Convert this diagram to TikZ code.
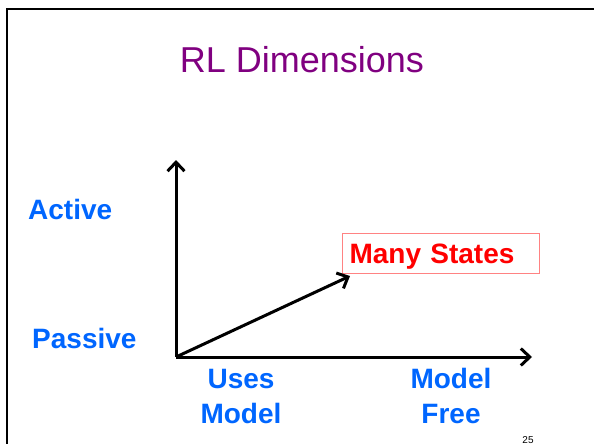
\documentclass[tikz,border=0pt]{standalone}
\usepackage{fontspec}
\setmainfont{Liberation Sans}
\usepackage{xcolor}
\usetikzlibrary{positioning, calc, arrows.meta}

\definecolor{titlepurple}{RGB}{128,0,128}
\definecolor{dimblue}{RGB}{0,102,255}
\definecolor{boxpink}{RGB}{255,130,130}

\begin{document}
\begin{tikzpicture}[
    x=1pt, y=-1pt,
    title/.style={font=\fontsize{36}{43}\selectfont, text=titlepurple,
      anchor=base},
    dimlabel/.style={font=\fontsize{28}{35}\selectfont\bfseries,
      text=dimblue, inner sep=0pt},
    statebox/.style={draw=boxpink, line width=1pt,
      font=\fontsize{28}{35}\selectfont\bfseries, text=red,
      anchor=north west, minimum width=197pt, minimum height=40pt,
      text width=183pt, inner xsep=7pt, inner ysep=0pt, align=left,
      text depth=0pt},
    axis/.style={line width=3pt, -{Straight Barb[length=9pt, width=17pt]}}
    ]

    \useasboundingbox (0,0) rectangle (594,444);

    % Cadre
    \draw[line width=2pt] (7,444) -- (7,9) -- (594,9);

    % Titre
    \node[title] (titre) at (302,73) {RL Dimensions};

    % Axes
    \coordinate (O) at (176,357);
    \coordinate (yTip) at (176,160);
    \coordinate (xTip) at (532,357);
    \draw[axis] (O) -- (yTip);
    \draw[axis] (O) -- (xTip);

    % Boite
    \node[statebox] (states) at (342,233) {Many States};
    \draw[axis] (O) -- ($(states.south west)+(8,2)$);

    % Etiquettes
    \node[dimlabel, anchor=base west] (active) at (28,219) {Active};
    \node[dimlabel, anchor=base west] (passive) at (32,348) {Passive};
    \node[dimlabel, align=center, anchor=base] (usesModel) at (241,423)
    {Uses\\Model};
    \node[dimlabel, align=center, anchor=base] (modelFree) at (451,423)
    {Model\\Free};

    % Numero
    \node[font=\fontsize{10}{12}\selectfont, anchor=base, inner sep=0pt]
    (pageNum) at (528,443) {25};

\end{tikzpicture}
\end{document}
